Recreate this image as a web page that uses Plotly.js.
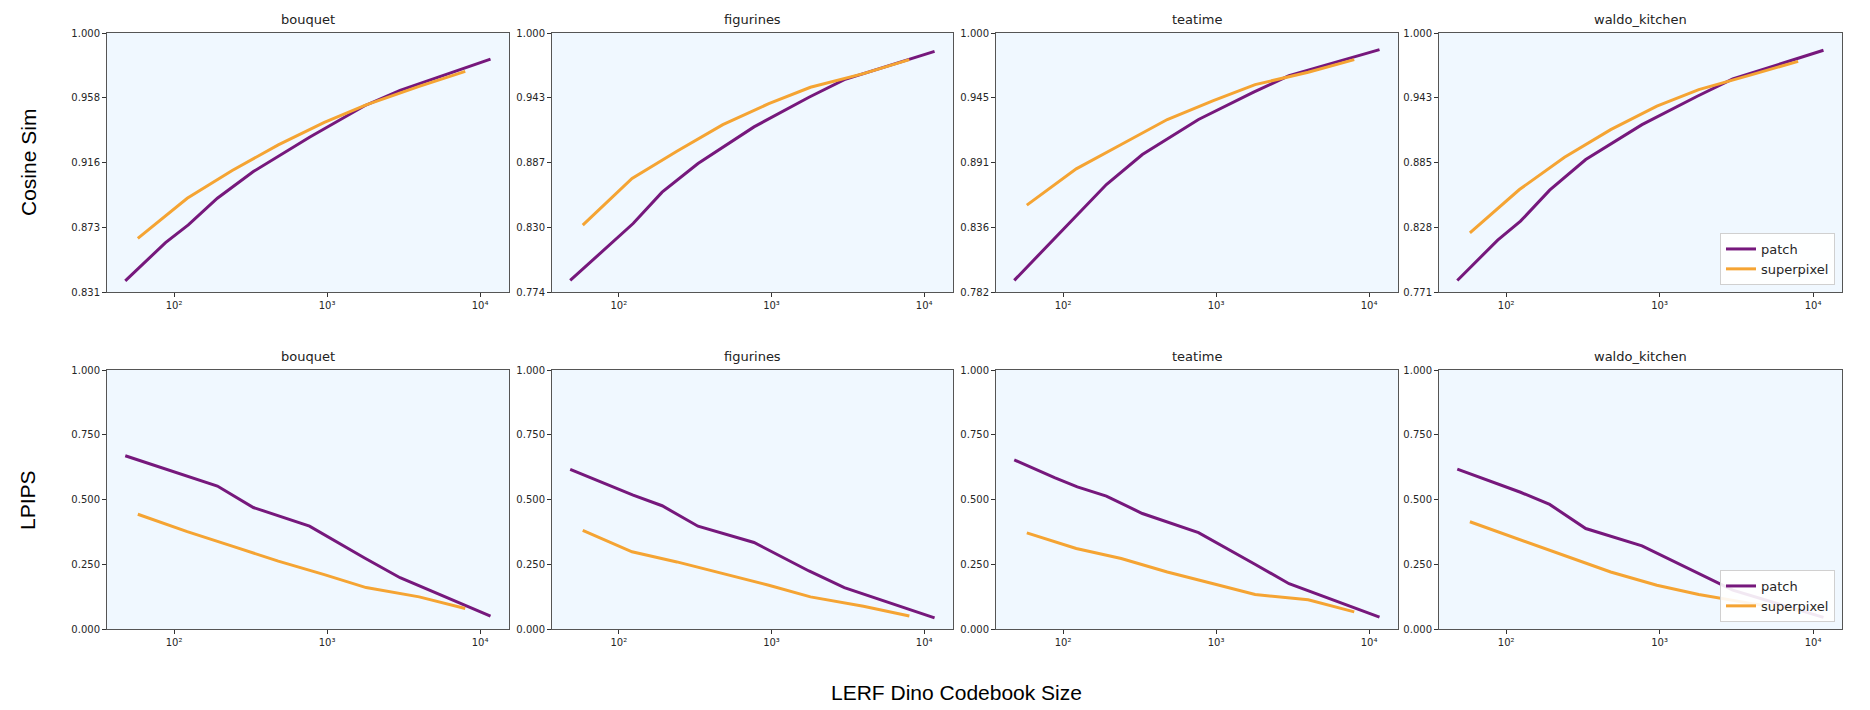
<!DOCTYPE html>
<html>
<head>
<meta charset="utf-8">
<script src="https://cdn.plot.ly/plotly-3.0.1.min.js"></script>
<style>html,body{margin:0;padding:0;background:#fff}#chart{width:1870px;height:710px}</style>
</head>
<body>
<div id="chart"></div>
<script>
const scenes = ['bouquet', 'figurines', 'teatime', 'waldo_kitchen'];
const patchSizes = [48, 88, 124, 192, 330, 768, 1760, 3000, 11700];
const superpixelSizes = [58, 122, 240, 480, 960, 1800, 4000, 8000];
const cosineYMin = [0.8312, 0.7738, 0.7817, 0.7708];
const lpipsYMin = [0, 0, 0, 0];

const cosPatchBouquet = [0.8384, 0.8634, 0.8749, 0.8923, 0.9097, 0.9321, 0.9526, 0.9626, 0.9830];
const cosSuperBouquet = [0.8662, 0.8923, 0.9104, 0.9271, 0.9417, 0.9532, 0.9652, 0.9750];
const cosPatchFigurines = [0.7839, 0.8156, 0.8336, 0.8610, 0.8860, 0.9180, 0.9439, 0.9593, 0.9840];
const cosSuperFigurines = [0.8322, 0.8729, 0.8967, 0.9200, 0.9383, 0.9526, 0.9645, 0.9767];
const cosPatchTeatime = [0.7915, 0.8266, 0.8463, 0.8723, 0.8976, 0.9271, 0.9501, 0.9641, 0.9860];
const cosSuperTeatime = [0.8549, 0.8855, 0.9060, 0.9271, 0.9430, 0.9565, 0.9669, 0.9776];
const cosPatchWaldo = [0.7810, 0.8167, 0.8335, 0.8609, 0.8880, 0.9189, 0.9440, 0.9593, 0.9847];
const cosSuperWaldo = [0.8232, 0.8615, 0.8901, 0.9145, 0.9352, 0.9499, 0.9632, 0.9749];

const lpipsPatchBouquet = [0.669, 0.617, 0.588, 0.552, 0.469, 0.397, 0.274, 0.198, 0.050];
const lpipsSuperBouquet = [0.443, 0.376, 0.320, 0.262, 0.210, 0.160, 0.124, 0.079];
const lpipsPatchFigurines = [0.616, 0.553, 0.517, 0.476, 0.397, 0.334, 0.224, 0.160, 0.043];
const lpipsSuperFigurines = [0.381, 0.298, 0.259, 0.214, 0.169, 0.124, 0.088, 0.050];
const lpipsPatchTeatime = [0.653, 0.584, 0.549, 0.513, 0.446, 0.372, 0.253, 0.175, 0.046];
const lpipsSuperTeatime = [0.371, 0.311, 0.272, 0.220, 0.175, 0.133, 0.113, 0.066];
const lpipsPatchWaldo = [0.617, 0.561, 0.528, 0.481, 0.388, 0.321, 0.218, 0.150, 0.045];
const lpipsSuperWaldo = [0.414, 0.345, 0.285, 0.220, 0.169, 0.133, 0.098, 0.072];

const xTickVals = [100, 1000, 10000];
const xTickText = ['10\u00B2', '10\u00B3', '10\u2074'];
const rowLabels = ['Cosine Sim', 'LPIPS'];
const xLabel = 'LERF Dino Codebook Size';
const seriesNames = ['patch', 'superpixel'];

const cosPatch = [cosPatchBouquet, cosPatchFigurines, cosPatchTeatime, cosPatchWaldo];
const cosSuper = [cosSuperBouquet, cosSuperFigurines, cosSuperTeatime, cosSuperWaldo];
const lpPatch = [lpipsPatchBouquet, lpipsPatchFigurines, lpipsPatchTeatime, lpipsPatchWaldo];
const lpSuper = [lpipsSuperBouquet, lpipsSuperFigurines, lpipsSuperTeatime, lpipsSuperWaldo];

const W = 1870, H = 710;
const colPx = [[107, 509], [552, 953], [996, 1398], [1439, 1842]];
const rowPx = [[33, 292], [370, 629]];
const purple = '#76187c';
const orange = '#f5a433';
const tickFont = {family: 'DejaVu Sans', size: 10, color: '#262626'};

const data = [];
const layout = {
  width: W, height: H,
  margin: {l: 0, r: 0, t: 0, b: 0},
  paper_bgcolor: '#ffffff',
  plot_bgcolor: '#f0f8ff',
  showlegend: true,
  annotations: [],
  legend: {
    x: 1835 / W, xanchor: 'right', y: 1 - 285 / H, yanchor: 'bottom',
    bgcolor: 'rgba(255,255,255,0.9)', bordercolor: '#d0d0d0', borderwidth: 1,
    font: {family: 'DejaVu Sans', size: 13, color: '#262626'}, tracegroupgap: 0
  },
  legend2: {
    x: 1835 / W, xanchor: 'right', y: 1 - 622 / H, yanchor: 'bottom',
    bgcolor: 'rgba(255,255,255,0.9)', bordercolor: '#d0d0d0', borderwidth: 1,
    font: {family: 'DejaVu Sans', size: 13, color: '#262626'}, tracegroupgap: 0
  }
};

for (let r = 0; r < 2; r++) {
  for (let c = 0; c < 4; c++) {
    const idx = r * 4 + c + 1;
    const sfx = idx === 1 ? '' : String(idx);
    const xa = 'x' + sfx, ya = 'y' + sfx;
    const yMin = r === 0 ? cosineYMin[c] : lpipsYMin[c];
    const yTicks = [0, 1, 2, 3, 4].map(k => yMin + (1 - yMin) * k / 4);
    const pY = r === 0 ? cosPatch[c] : lpPatch[c];
    const sY = r === 0 ? cosSuper[c] : lpSuper[c];
    const leg = r === 0 ? 'legend' : 'legend2';
    const showLeg = c === 3;
    data.push({x: patchSizes, y: pY, xaxis: xa, yaxis: ya, type: 'scatter', mode: 'lines',
      name: seriesNames[0], line: {color: purple, width: 3}, showlegend: showLeg, legend: leg});
    data.push({x: superpixelSizes, y: sY, xaxis: xa, yaxis: ya, type: 'scatter', mode: 'lines',
      name: seriesNames[1], line: {color: orange, width: 3}, showlegend: showLeg, legend: leg});
    layout['xaxis' + sfx] = {
      type: 'log', domain: [colPx[c][0] / W, colPx[c][1] / W], range: [1.562, 4.189],
      anchor: ya, tickvals: xTickVals, ticktext: xTickText, ticks: 'outside', ticklen: 4,
      tickcolor: '#333', showline: true, linecolor: '#555', linewidth: 1, mirror: true,
      showgrid: false, zeroline: false, tickfont: tickFont
    };
    layout['yaxis' + sfx] = {
      domain: [1 - rowPx[r][1] / H, 1 - rowPx[r][0] / H], range: [yMin, 1.0],
      anchor: xa, tickvals: yTicks, ticktext: yTicks.map(v => v.toFixed(3)), ticks: 'outside', ticklen: 4,
      tickcolor: '#333', showline: true, linecolor: '#555', linewidth: 1, mirror: true,
      showgrid: false, zeroline: false, tickfont: tickFont
    };
    layout.annotations.push({
      text: scenes[c], xref: 'paper', yref: 'paper',
      x: (colPx[c][0] + colPx[c][1]) / 2 / W, y: 1 - (rowPx[r][0] - 4) / H,
      xanchor: 'center', yanchor: 'bottom', showarrow: false,
      font: {family: 'DejaVu Sans', size: 13, color: '#222'}
    });
  }
}

layout.annotations.push({text: rowLabels[0], xref: 'paper', yref: 'paper', x: 28 / W, y: 1 - 163 / H,
  xanchor: 'center', yanchor: 'middle', textangle: -90, showarrow: false,
  font: {family: 'Liberation Sans', size: 21, color: '#000'}});
layout.annotations.push({text: rowLabels[1], xref: 'paper', yref: 'paper', x: 28 / W, y: 1 - 500 / H,
  xanchor: 'center', yanchor: 'middle', textangle: -90, showarrow: false,
  font: {family: 'Liberation Sans', size: 21, color: '#000'}});
layout.annotations.push({text: xLabel, xref: 'paper', yref: 'paper', x: 957 / W, y: 1 - 692 / H,
  xanchor: 'center', yanchor: 'middle', showarrow: false,
  font: {family: 'Liberation Sans', size: 21, color: '#000'}});

Plotly.newPlot('chart', data, layout, {displayModeBar: false, staticPlot: true});
</script>
</body>
</html>
